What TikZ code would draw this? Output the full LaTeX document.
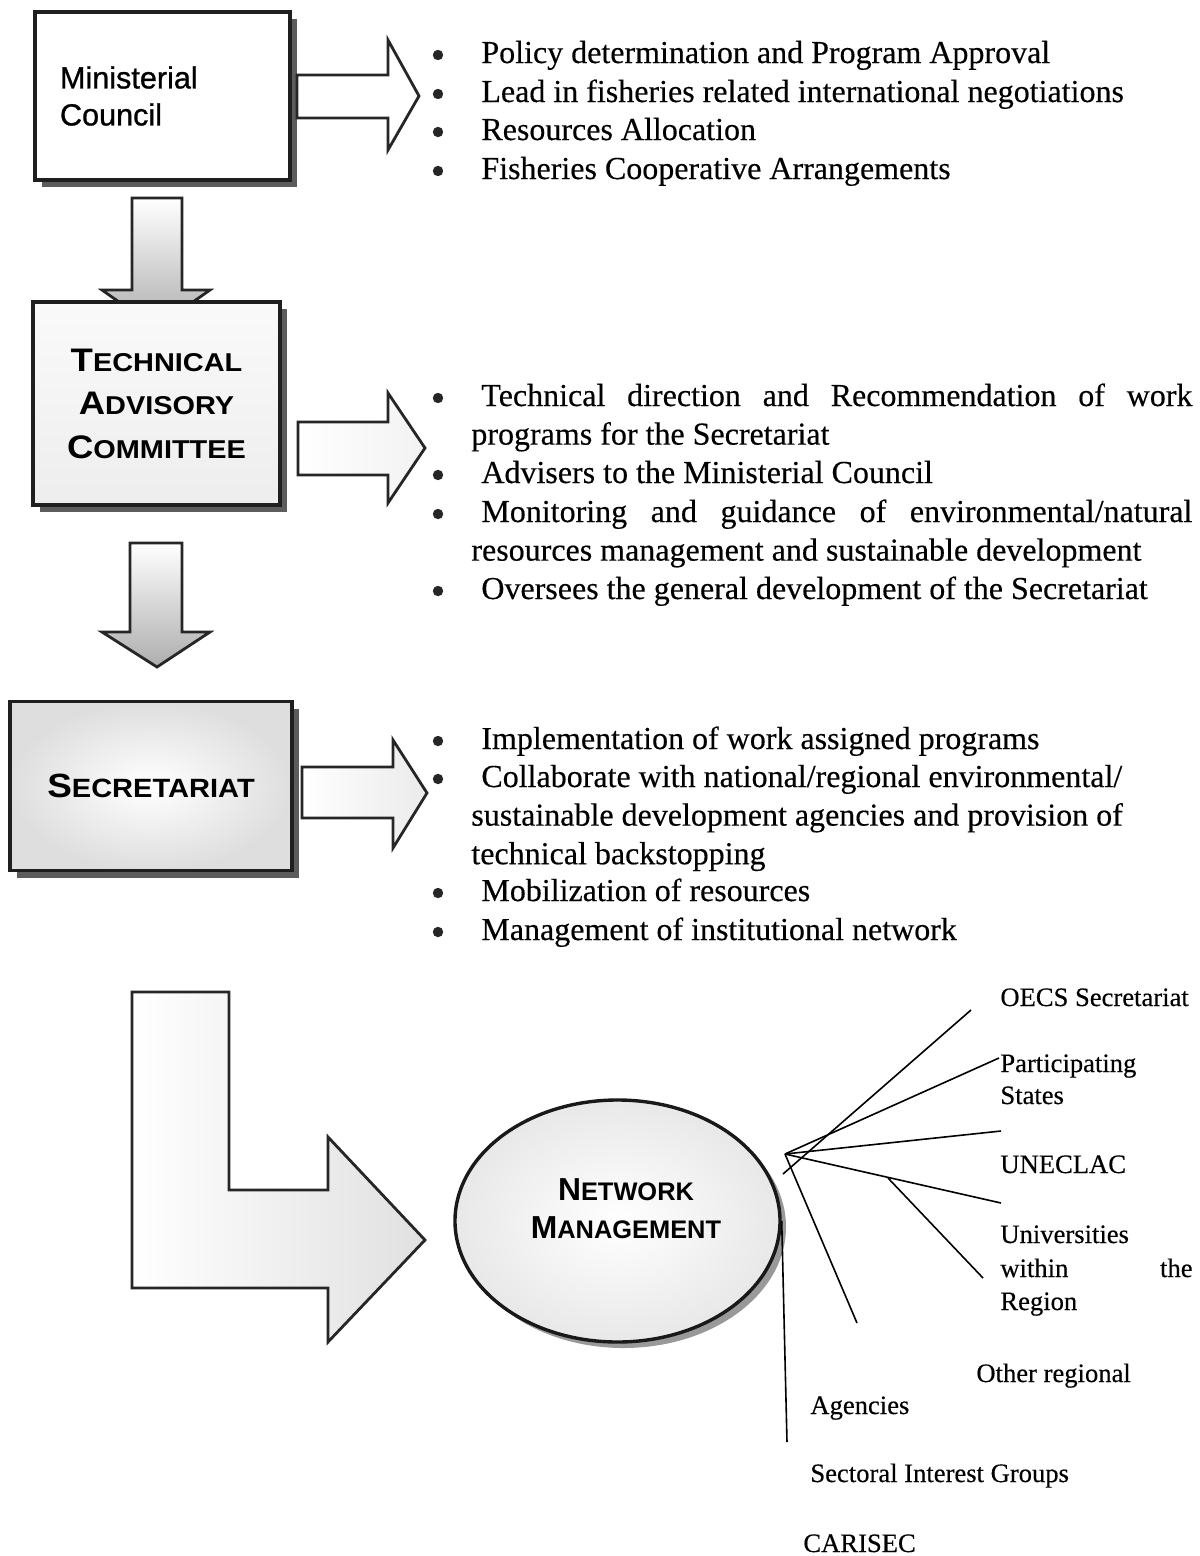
\documentclass[tikz,border=0pt]{standalone}
\usepackage{fontspec}
\usepackage{graphicx}
\setmainfont[FakeBold=0.35]{Liberation Serif}
\newfontfamily\sansf{Liberation Sans}
\newfontfamily\sansmed[FakeBold=0.9]{Liberation Sans}
\usetikzlibrary{shadows,shapes.geometric}
\newcommand\fsc[4]{{\fontsize{#1}{#1}\selectfont #3}{\fontsize{#2}{#2}\selectfont #4}}
\tikzset{
  orgbox/.style={draw=black!88, line width=1.7bp, rectangle, inner sep=0pt},
  boxshadow/.style={drop shadow={shadow xshift=3.5bp, shadow yshift=-3.5bp, fill=black!75, opacity=0.85}},
  blockarrow/.style={draw=black!85, line width=1.4bp, line join=miter},
  netline/.style={draw=black, line width=0.8bp},
  listtext/.style={anchor=base west, inner sep=0pt, font=\fontsize{16bp}{19.3bp}\selectfont},
  bul/.style={circle, fill=black!85, inner sep=0pt, minimum size=5.2bp},
  netlabel/.style={anchor=base west, inner sep=0pt, font=\fontsize{13.3bp}{16bp}\selectfont},
  scbold/.style={inner sep=0pt, align=center, font=\sansf\bfseries},
}
\begin{document}
\begin{tikzpicture}[x=0.5bp,y=-0.5bp]
\useasboundingbox (0,0) rectangle (1200,1556);

% ---- down block arrows (behind boxes)
\draw[blockarrow, top color=white, bottom color=black!32]
  (132,198) -- (182,198) -- (182,290) -- (210,290) -- (156,328) -- (102,290) -- (132,290) -- cycle;
\draw[blockarrow, top color=white, bottom color=black!32]
  (130,543) -- (182,543) -- (182,632) -- (210,632) -- (157,667) -- (102,632) -- (130,632) -- cycle;

% ---- boxes
\node[orgbox, boxshadow, fill=white, minimum width=127.5bp, minimum height=84bp,
      text width=102.5bp, align=left, font=\sansmed\fontsize{15.3bp}{18.5bp}\selectfont]
  (mc) at (162.5,96) {Ministerial\\Council};
\node[orgbox, boxshadow, top color=black!2, bottom color=black!7, minimum width=123.5bp, minimum height=101.5bp,
      align=center, font=\sansf\bfseries\fontsize{16.3bp}{21.75bp}\selectfont]
  (tac) at (156.5,403.5) {\scalebox{1.12}[1]{\fsc{16.3bp}{12.9bp}{T}{ECHNICAL}}\\\scalebox{1.12}[1]{\fsc{16.3bp}{12.9bp}{A}{DVISORY}}\\\scalebox{1.12}[1]{\fsc{16.3bp}{12.9bp}{C}{OMMITTEE}}};
\node[orgbox, boxshadow, inner color=white, outer color=black!13, minimum width=141bp, minimum height=84.5bp,
      font=\sansf\bfseries]
  (sec) at (151,786) {\scalebox{1.1}[1]{\fsc{16.8bp}{13.2bp}{S}{ECRETARIAT}}};

% ---- right block arrows
\draw[blockarrow, fill=white]
  (297,75) -- (388,75) -- (388,40) -- (419,96) -- (388,150) -- (388,118) -- (297,118) -- cycle;
\draw[blockarrow, left color=white, right color=black!5]
  (298,422) -- (388,422) -- (388,393) -- (425,448) -- (388,503) -- (388,475) -- (298,475) -- cycle;
\draw[blockarrow, left color=white, right color=black!8]
  (302,767) -- (393,767) -- (393,740) -- (427,793) -- (393,848) -- (393,818) -- (302,818) -- cycle;

% ---- L arrow
\draw[blockarrow, left color=white, right color=black!12]
  (132,992) -- (229,992) -- (229,1190) -- (328,1190) -- (328,1137) -- (425,1240)
  -- (328,1342) -- (328,1288) -- (132,1288) -- cycle;

% ---- list 1
\node[bul] (b1a) at (438,55) {};
\node[bul] (b1b) at (438,94) {};
\node[bul] (b1c) at (438,132) {};
\node[bul] (b1d) at (438,171) {};
\node[listtext] (l1a) at (481,63) {Policy determination and Program Approval};
\node[listtext] (l1b) at (481,102) {Lead in fisheries related international negotiations};
\node[listtext] (l1c) at (481,140) {Resources Allocation};
\node[listtext] (l1d) at (481,179) {Fisheries Cooperative Arrangements};

% ---- list 2
\node[bul] (b2a) at (438,398) {};
\node[bul] (b2b) at (438,475) {};
\node[bul] (b2c) at (438,514) {};
\node[bul] (b2d) at (438,591) {};
\node[listtext] (l2a) at (471,406) {\parbox[t]{360.5bp}{\hspace*{5bp}Technical direction and Recommendation of work\linebreak programs for the Secretariat}};
\node[listtext] (l2b) at (481,483) {Advisers to the Ministerial Council};
\node[listtext] (l2c) at (471,522) {\parbox[t]{360.5bp}{\hspace*{5bp}Monitoring and guidance of environmental/natural\linebreak resources management and sustainable development}};
\node[listtext] (l2d) at (481,599) {Oversees the general development of the Secretariat};

% ---- list 3
\node[bul] (b3a) at (438,741) {};
\node[bul] (b3b) at (438,779) {};
\node[bul] (b3c) at (438,893) {};
\node[bul] (b3d) at (438,932) {};
\node[listtext] (l3a) at (481,749) {Implementation of work assigned programs};
\node[listtext] (l3b) at (471,787) {\parbox[t]{360.5bp}{\raggedright\hspace*{5bp}Collaborate with national/regional environmental/\\sustainable development agencies and provision of\\technical backstopping}};
\node[listtext] (l3c) at (481,901) {Mobilization of resources};
\node[listtext] (l3d) at (481,940) {Management of institutional network};

% ---- network management ellipse
\node[ellipse, draw=black!90, line width=1.7bp, inner color=white, outer color=black!9,
      minimum width=162.5bp, minimum height=121bp,
      drop shadow={shadow xshift=3bp, shadow yshift=-3bp, fill=black!50, opacity=0.8}]
  (nm) at (617.5,1221) {};
\node[scbold, font=\sansf\bfseries\fontsize{15.9bp}{19bp}\selectfont] (nmt) at (626,1209)
  {\fsc{15.9bp}{12.7bp}{N}{ETWORK}\\\fsc{15.9bp}{12.7bp}{M}{ANAGEMENT}};

% ---- network labels
\node[netlabel] (oecs) at (1000,1006) {OECS Secretariat};
\node[netlabel] (part) at (1000,1072) {Participating};
\node[netlabel] (stat) at (1000,1104) {States};
\node[netlabel] (unec) at (1000,1173) {UNECLAC};
\node[netlabel] (univ) at (1000,1243) {Universities};
\node[netlabel] (with) at (1000,1277) {within};
\node[netlabel, anchor=base east] (the) at (1193,1277) {the};
\node[netlabel] (regn) at (1000,1310) {Region};
\node[netlabel] (othr) at (976,1382) {Other regional};
\node[netlabel] (agen) at (810,1414) {Agencies};
\node[netlabel] (sect) at (810,1482) {Sectoral Interest Groups};
\node[netlabel] (cari) at (803,1552) {CARISEC};

% ---- network connectors
\coordinate (hub) at (785,1154);
\coordinate (oS) at (783,1174);
\coordinate (oE) at (971,1010);
\coordinate (pE) at (999,1058);
\coordinate (uE) at (1001,1131);
\coordinate (vE) at (1001,1203);
\coordinate (bS) at (888,1178);
\coordinate (bE) at (983,1278);
\coordinate (dE) at (857,1323);
\coordinate (sE) at (787,1442);
\draw[netline] (oS) -- (oE);
\draw[netline] (hub) -- (pE);
\draw[netline] (hub) -- (uE);
\draw[netline] (hub) -- (vE);
\draw[netline] (bS) -- (bE);
\draw[netline] (hub) -- (dE);
\draw[netline] (nm.east) -- (sE);
\end{tikzpicture}
\end{document}
